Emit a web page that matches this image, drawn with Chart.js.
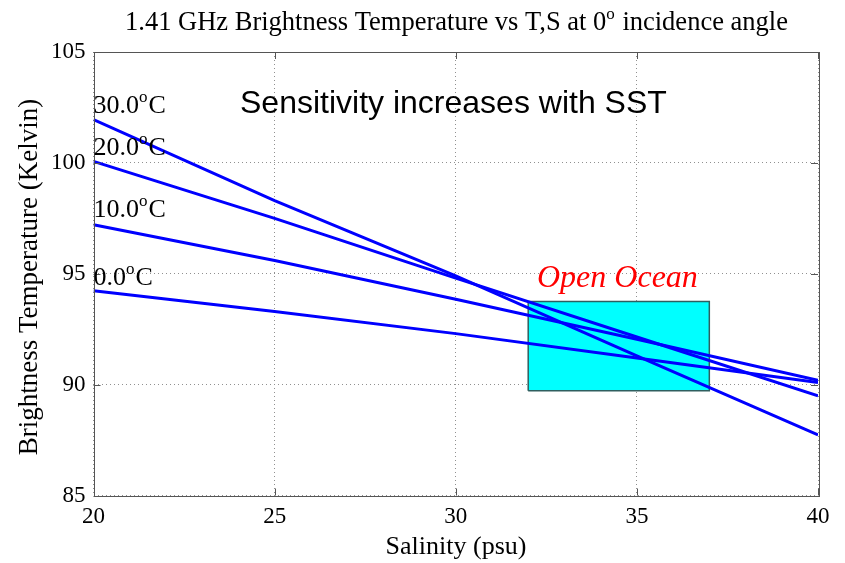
<!DOCTYPE html>
<html><head><meta charset="utf-8">
<script src="https://cdn.jsdelivr.net/npm/chart.js@4.4.0/dist/chart.umd.min.js"></script>
<style>html,body{margin:0;padding:0;background:#fff}#wrap{width:845px;height:563px;position:relative}</style>
</head><body><div id="wrap"><canvas id="c" width="845" height="563"></canvas></div>
<script>
// ---- data ----
const salinity = [20, 25, 30, 35, 40];
const tb30 = [101.95, 98.3, 94.9, 91.3, 87.73];
const tb20 = [100.07, 97.5, 94.8, 92.15, 89.49];
const tb10 = [97.21, 95.6, 93.85, 92.05, 90.2];
const tb0  = [94.23, 93.3, 92.3, 91.2, 90.1];
const sstLabels = ['30.0', '20.0', '10.0', '0.0'];
const boxSalinity = [32, 37, 37, 32, 32];
const boxTb = [89.72, 89.72, 93.75, 93.75, 89.72];
const xTicks = [20, 25, 30, 35, 40];
const yTicks = [85, 90, 95, 100, 105];

// label anchor positions (data coords)
const sstLabelPos = [[20.0, 102.27], [20.0, 100.37], [20.0, 97.57], [20.0, 94.5]];

const pts = (xs, ys) => xs.map((x, i) => ({x, y: ys[i]}));
const SERIF = '"Liberation Serif", "Times New Roman", serif';
const SANS = '"Liberation Sans", Arial, sans-serif';

function drawRich(ctx, parts, x, y, size, family, align, style) {
  style = style || '';
  let total = 0;
  const items = parts.map(p => {
    const s = p.sup ? Math.round(size * 0.66) : size;
    ctx.font = `${style} ${s}px ${family}`;
    const w = ctx.measureText(p.t).width;
    total += w;
    return {p, s, w};
  });
  let cx = align === 'center' ? x - total / 2 : x;
  ctx.textAlign = 'left';
  ctx.textBaseline = 'alphabetic';
  items.forEach(it => {
    ctx.font = `${style} ${it.s}px ${family}`;
    ctx.fillText(it.p.t, cx, it.p.sup ? y - size * 0.42 : y);
    cx += it.w + (it.p.sup ? 1 : 0);
  });
}

const deco = {
  id: 'deco',
  afterDatasetsDraw(chart) {
    const {ctx, chartArea: a, scales: {x, y}} = chart;
    ctx.save();
    // frame
    ctx.strokeStyle = '#555';
    ctx.lineWidth = 1;
    ctx.setLineDash([]);
    ctx.strokeRect(Math.round(a.left) + 0.5, Math.round(a.top) + 0.5, Math.round(a.right - a.left), Math.round(a.bottom - a.top));
    // inward ticks
    const tl = 7;
    ctx.beginPath();
    xTicks.forEach(v => {
      const px = Math.round(x.getPixelForValue(v)) + 0.5;
      ctx.moveTo(px, a.bottom); ctx.lineTo(px, a.bottom - tl);
      ctx.moveTo(px, a.top); ctx.lineTo(px, a.top + tl);
    });
    yTicks.forEach(v => {
      const py = Math.round(y.getPixelForValue(v)) + 0.5;
      ctx.moveTo(a.left, py); ctx.lineTo(a.left + tl, py);
      ctx.moveTo(a.right, py); ctx.lineTo(a.right - tl, py);
    });
    ctx.stroke();

    ctx.fillStyle = '#000';
    // SST labels
    sstLabels.forEach((t, i) => {
      const [sx, sy] = sstLabelPos[i];
      drawRich(ctx, [{t}, {t: 'o', sup: true}, {t: 'C'}], x.getPixelForValue(sx), y.getPixelForValue(sy), 26, SERIF, 'left');
    });
    // annotation
    ctx.font = `32px ${SANS}`;
    ctx.textAlign = 'left';
    ctx.fillText('Sensitivity increases with SST', 240, 113);
    ctx.fillStyle = '#ff0000';
    ctx.font = `italic 32px ${SERIF}`;
    ctx.fillText('Open Ocean', 537, 287);

    // title
    ctx.fillStyle = '#000';
    drawRich(ctx, [{t: '1.41 GHz Brightness Temperature vs T,S at 0'}, {t: 'o', sup: true}, {t: ' incidence angle'}], 456, 30, 26.5, SERIF, 'center');
    // axis titles
    ctx.font = `26px ${SERIF}`;
    ctx.textAlign = 'center';
    ctx.fillText('Salinity (psu)', 456, 554);
    ctx.save();
    ctx.translate(37, 277);
    ctx.rotate(-Math.PI / 2);
    ctx.font = `27px ${SERIF}`;
    ctx.fillText('Brightness Temperature (Kelvin)', 0, 0);
    ctx.restore();
    ctx.restore();
  }
};

const lineDs = (label, ys) => ({
  label, data: pts(salinity, ys), showLine: true, borderColor: '#0000ff', borderWidth: 3,
  pointRadius: 0, fill: false, order: 0, tension: 0
});

new Chart(document.getElementById('c'), {
  type: 'scatter',
  data: {
    datasets: [
      lineDs('30.0', tb30), lineDs('20.0', tb20), lineDs('10.0', tb10), lineDs('0.0', tb0),
      {
        label: 'Open Ocean', data: pts(boxSalinity, boxTb), showLine: true,
        borderColor: '#2f5f5f', borderWidth: 1.5, backgroundColor: '#00ffff',
        pointRadius: 0, fill: 'shape', order: 5, tension: 0
      }
    ]
  },
  options: {
    responsive: false, animation: false, devicePixelRatio: 1,
    layout: {padding: {top: 52, right: 27, left: 0, bottom: 0}},
    plugins: {legend: {display: false}, tooltip: {enabled: false}, title: {display: false}},
    scales: {
      x: {
        type: 'linear', min: 20, max: 40,
        afterBuildTicks: s => { s.ticks = xTicks.map(v => ({value: v})); },
        afterFit: s => { s.height = 67.5; },
        grid: {color: '#909090', lineWidth: 1, drawTicks: false},
        border: {display: false, dash: [1, 3]},
        ticks: {font: {family: SERIF, size: 23}, color: '#000', padding: 8, maxRotation: 0, autoSkip: false}
      },
      y: {
        type: 'linear', min: 85, max: 105,
        afterBuildTicks: s => { s.ticks = yTicks.map(v => ({value: v})); },
        afterFit: s => { s.width = 93.5; },
        grid: {color: '#909090', lineWidth: 1, drawTicks: false},
        border: {display: false, dash: [1, 3]},
        ticks: {font: {family: SERIF, size: 23}, color: '#000', padding: 8}
      }
    }
  },
  plugins: [deco]
});
</script></body></html>
